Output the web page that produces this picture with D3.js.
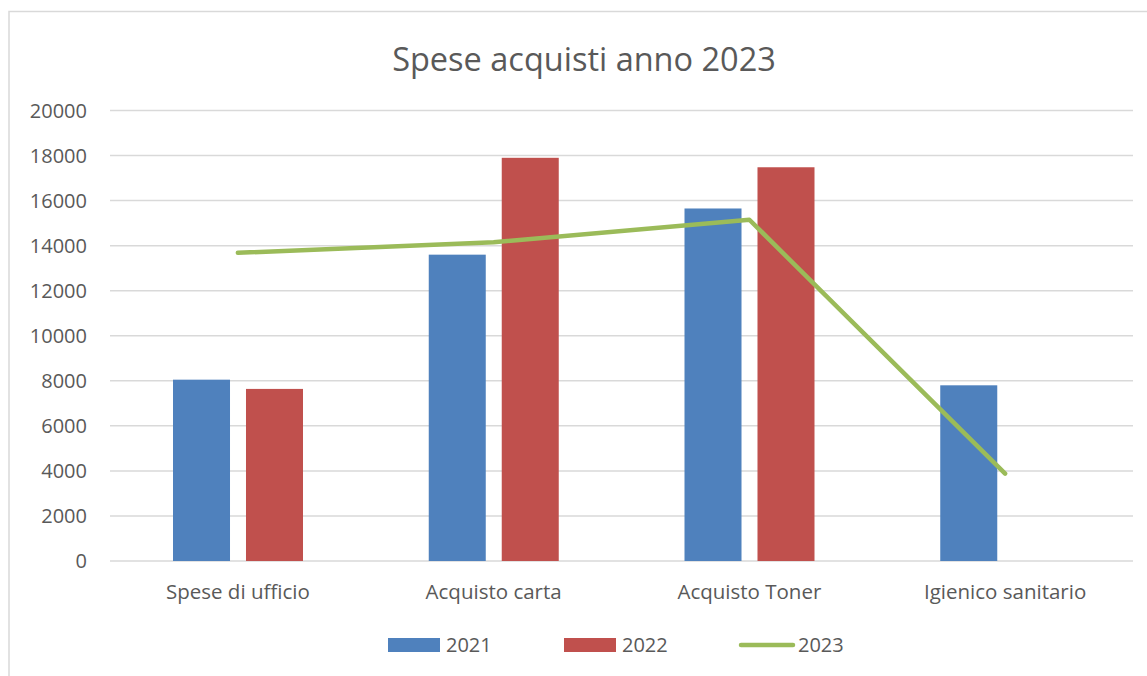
<!DOCTYPE html>
<html>
<head>
<meta charset="utf-8">
<script src="https://cdn.jsdelivr.net/npm/d3@7"></script>
<style>
  html, body { margin: 0; padding: 0; background: #fff; }
  svg { display: block; font-family: "Open Sans", sans-serif; }
</style>
</head>
<body>
<svg id="chart" width="1147" height="676"></svg>
<script>
// dati
const categories = ["Spese di ufficio", "Acquisto carta", "Acquisto Toner", "Igienico sanitario"];
const barSeries = ["2021", "2022"];
const values2021 = [8050, 13600, 15650, 7800];
const values2022 = [7640, 17900, 17480, null];
const values2023 = [13680, 14150, 15150, 3880];
const yTicks = [0, 2000, 4000, 6000, 8000, 10000, 12000, 14000, 16000, 18000, 20000];

const colors = { "2021": "#4f81bd", "2022": "#c0504d", "2023": "#9bbb59" };

const svg = d3.select("#chart");

// bordo dell'area grafico
svg.append("rect")
  .attr("x", 9).attr("y", 11.5)
  .attr("width", 1200).attr("height", 700)
  .attr("fill", "#fff")
  .attr("stroke", "#d9d9d9")
  .attr("stroke-width", 1.5);

svg.append("text")
  .attr("x", 584).attr("y", 71)
  .attr("text-anchor", "middle")
  .style("font-size", "32.5px")
  .style("fill", "#595959")
  .text("Spese acquisti anno 2023");

const plot = { left: 110, right: 1133, top: 110.5, bottom: 561 };

const x0 = d3.scaleBand().domain(categories).range([plot.left, plot.right]);
const x1 = d3.scaleBand().domain(barSeries).range([63, 193]).paddingInner(0.219);
const y = d3.scaleLinear().domain([0, 20000]).range([plot.bottom, plot.top]);

// griglia
svg.append("g")
  .selectAll("line")
  .data(yTicks)
  .join("line")
  .attr("x1", plot.left).attr("x2", plot.right)
  .attr("y1", d => y(d)).attr("y2", d => y(d))
  .attr("stroke", "#d9d9d9")
  .attr("stroke-width", 1.5);

// etichette asse y
svg.append("g")
  .selectAll("text")
  .data(yTicks)
  .join("text")
  .attr("x", 87)
  .attr("y", d => y(d))
  .attr("dy", "0.36em")
  .attr("text-anchor", "end")
  .style("font-size", "20px")
  .style("fill", "#595959")
  .text(d => d);

// barre
const rows = categories.map((c, i) => ({ cat: c, "2021": values2021[i], "2022": values2022[i] }));
svg.append("g")
  .selectAll("g")
  .data(rows)
  .join("g")
  .attr("transform", d => `translate(${x0(d.cat)},0)`)
  .selectAll("rect")
  .data(d => barSeries.map(s => ({ s, v: d[s] })).filter(e => e.v != null))
  .join("rect")
  .attr("x", d => x1(d.s))
  .attr("width", x1.bandwidth())
  .attr("y", d => y(d.v))
  .attr("height", d => y(0) - y(d.v))
  .attr("fill", d => colors[d.s]);

// linea 2023
const line = d3.line()
  .x((d, i) => x0(categories[i]) + x0.bandwidth() / 2)
  .y(d => y(d));
svg.append("path")
  .datum(values2023)
  .attr("d", line)
  .attr("fill", "none")
  .attr("stroke", colors["2023"])
  .attr("stroke-width", 4.5)
  .attr("stroke-linecap", "round")
  .attr("stroke-linejoin", "round");

// etichette categorie
svg.append("g")
  .selectAll("text")
  .data(categories)
  .join("text")
  .attr("x", d => x0(d) + x0.bandwidth() / 2)
  .attr("y", 599)
  .attr("text-anchor", "middle")
  .style("font-size", "20.5px")
  .style("fill", "#595959")
  .text(d => d);

// legenda
const legend = [
  { name: "2021", type: "bar", x: 388 },
  { name: "2022", type: "bar", x: 564 },
  { name: "2023", type: "line", x: 739 }
];
const lg = svg.append("g").selectAll("g").data(legend).join("g")
  .attr("transform", d => `translate(${d.x},645)`);
lg.filter(d => d.type === "bar").append("rect")
  .attr("x", 0).attr("y", -7).attr("width", 52).attr("height", 14)
  .attr("fill", d => colors[d.name]);
lg.filter(d => d.type === "line").append("line")
  .attr("x1", 2).attr("x2", 54).attr("y1", 0).attr("y2", 0)
  .attr("stroke", d => colors[d.name])
  .attr("stroke-width", 4.5)
  .attr("stroke-linecap", "round");
lg.append("text")
  .attr("x", d => d.type === "bar" ? 58 : 59)
  .attr("y", 0)
  .attr("dy", "0.36em")
  .style("font-size", "20px")
  .style("fill", "#595959")
  .text(d => d.name);
</script>
</body>
</html>
